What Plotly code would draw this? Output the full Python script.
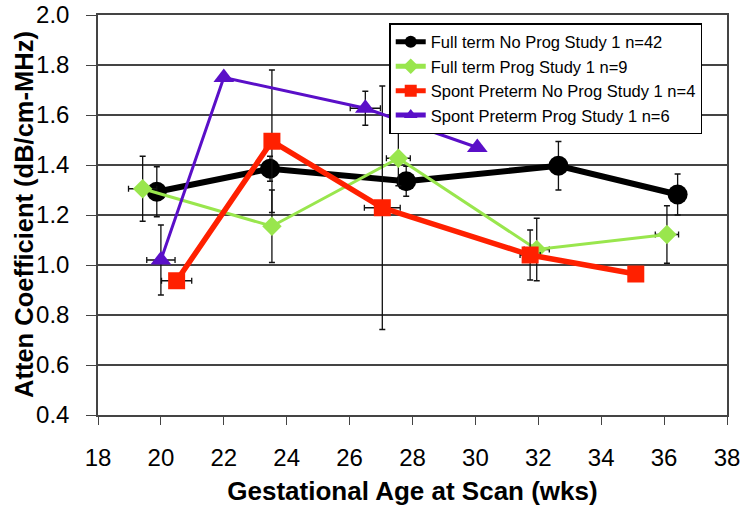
import plotly.graph_objects as go

# Data
names = ["Full term No Prog Study 1 n=42", "Full term Prog Study 1 n=9",
         "Spont Preterm No Prog Study 1 n=4", "Spont Preterm Prog Study 1 n=6"]

ft_np_x = [19.87, 23.47, 27.8, 32.64, 36.43]
ft_np_y = [1.293, 1.385, 1.335, 1.397, 1.282]
ft_np_ey = [0.10, 0.05, 0.06, 0.097, 0.082]
ft_np_ex = [0.0, 0.0, 0.0, 0.0, 0.0]

ft_p_x = [19.42, 23.53, 27.55, 31.95, 36.09]
ft_p_y = [1.305, 1.155, 1.427, 1.062, 1.122]
ft_p_ey = [0.13, 0.145, 0.11, 0.125, 0.115]
ft_p_ex = [0.45, 0.15, 0.38, 0.4, 0.37]

sp_np_x = [20.5, 23.53, 27.04, 31.74, 35.1]
sp_np_y = [0.937, 1.495, 1.229, 1.04, 0.964]
sp_np_ey = [0.0, 0.285, 0.487, 0.1, 0.0]
sp_np_ex = [0.48, 0.0, 0.57, 0.32, 0.0]

sp_p_x = [20.0, 22.0, 26.5, 30.06]
sp_p_y = [1.02, 1.75, 1.627, 1.47]
sp_p_ey = [0.14, 0.0, 0.068, 0.0]
sp_p_ex = [0.45, 0.0, 0.48, 0.0]

x_ticks = [18, 20, 22, 24, 26, 28, 30, 32, 34, 36, 38]
y_ticks = [0.4, 0.6, 0.8, 1.0, 1.2, 1.4, 1.6, 1.8, 2.0]

series = [
    (ft_np_x, ft_np_y, ft_np_ex, ft_np_ey, "#000000", 6, "circle", 20),
    (ft_p_x, ft_p_y, ft_p_ex, ft_p_ey, "#99E64D", 3, "diamond", 15),
    (sp_np_x, sp_np_y, sp_np_ex, sp_np_ey, "#FF2000", 5.5, "square", 17),
    (sp_p_x, sp_p_y, sp_p_ex, sp_p_ey, "#5A0FC8", 3, "triangle-up", 18),
]

fig = go.Figure()
for name, (xs, ys, ex, ey, col, lw, sym, ms) in zip(names, series):
    fig.add_trace(go.Scatter(
        x=xs, y=ys, name=name, mode="lines+markers",
        line=dict(color=col, width=lw),
        marker=dict(color=col, symbol=sym, size=ms, line=dict(width=0)),
        error_y=dict(type="data", array=ey, visible=True, color="#111111", thickness=1.3, width=3),
        error_x=dict(type="data", array=ex, visible=True, color="#111111", thickness=1.3, width=3),
    ))

font_family = "Liberation Sans, Arial, sans-serif"
fig.update_layout(
    width=751, height=514,
    margin=dict(l=98, r=24, t=15, b=99),
    paper_bgcolor="white", plot_bgcolor="white",
    font=dict(family=font_family, color="black"),
    showlegend=True,
    legend=dict(x=0.463, y=0.98, xanchor="left", yanchor="top",
                bordercolor="black", borderwidth=1.5, bgcolor="white",
                font=dict(size=16.5, family=font_family), tracegroupgap=0,
                itemsizing="constant", itemwidth=30),
    xaxis=dict(range=[18, 38], tickvals=x_ticks, ticktext=[str(v) for v in x_ticks],
               ticks="outside", ticklen=8, tickcolor="#444", showgrid=False,
               showline=True, linecolor="#444", linewidth=1.5, mirror=True,
               zeroline=False, tickfont=dict(size=24), ticklabelstandoff=12,
               automargin=False,
               title=dict(text="<b>Gestational Age at Scan (wks)</b>", font=dict(size=26), standoff=12)),
    yaxis=dict(range=[0.4, 2.0], tickvals=y_ticks, ticktext=[f"{v:.1f}" for v in y_ticks],
               ticks="outside", ticklen=10, tickcolor="#444", showgrid=True,
               gridcolor="#444", gridwidth=1.5,
               showline=True, linecolor="#444", linewidth=1.5, mirror=True,
               zeroline=False, tickfont=dict(size=24), ticklabelstandoff=12,
               automargin=False),
    annotations=[dict(text="<b>Atten Coefficient (dB/cm-MHz)</b>", textangle=-90,
                      xref="paper", yref="paper", x=0, y=0.5, xanchor="center", yanchor="middle",
                      xshift=-74, showarrow=False, font=dict(size=25.5))],
)

fig.write_html("out.html", config={"displayModeBar": False},
               post_script="document.body.style.margin='0';")
